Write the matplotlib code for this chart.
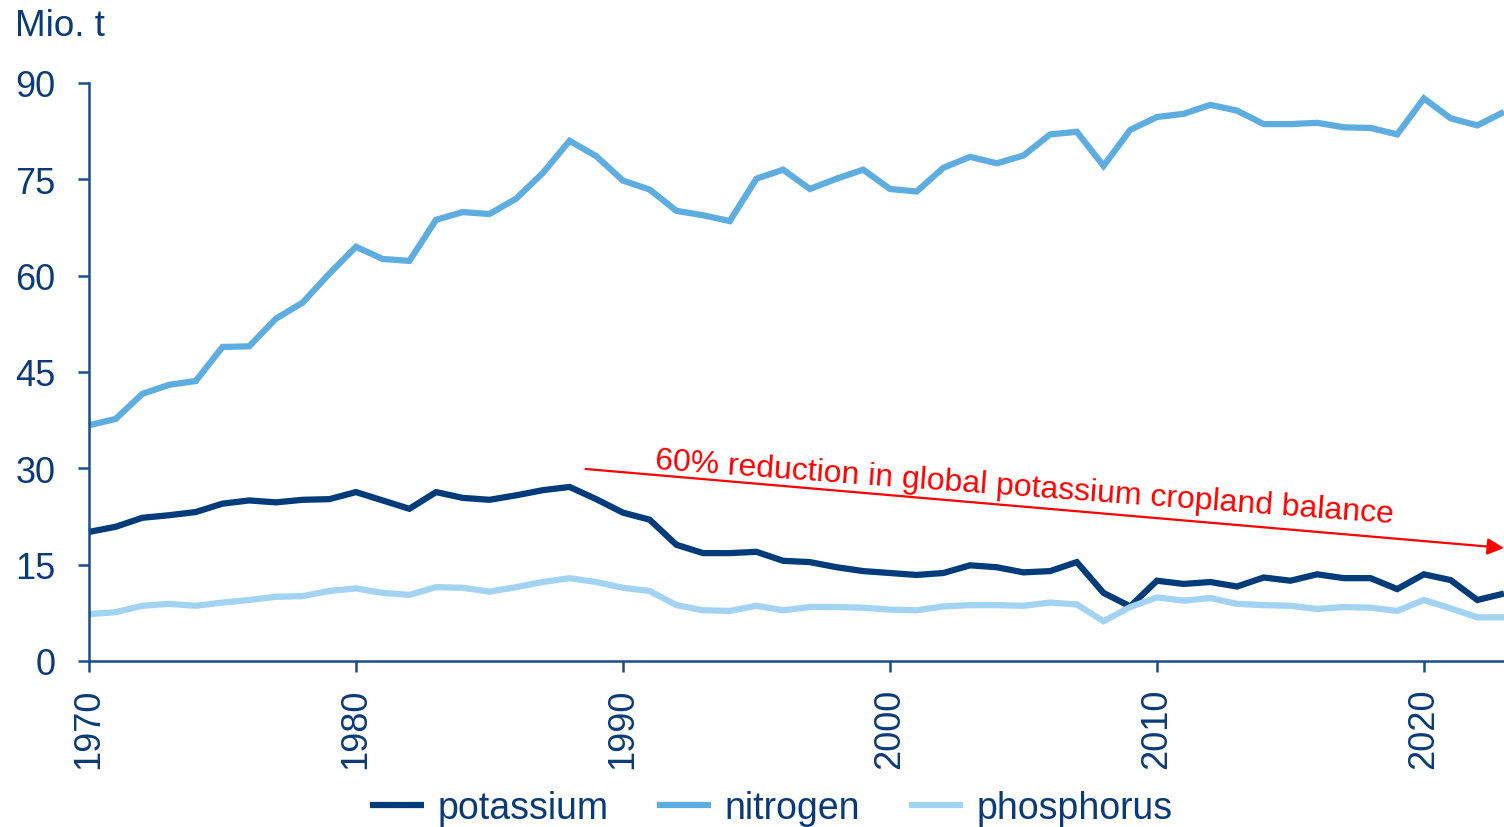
import matplotlib
matplotlib.use("Agg")
import matplotlib.pyplot as plt

years = list(range(1970, 2024))

nitrogen = [36.7, 37.7, 41.6, 43.0, 43.6, 48.9, 49.0, 53.3, 55.8, 60.3,
            64.5, 62.6, 62.3, 68.7, 69.9, 69.6, 72.0, 76.0, 81.0, 78.6,
            74.8, 73.4, 70.1, 69.4, 68.5, 75.1, 76.5, 73.5, 75.1, 76.5,
            73.5, 73.1, 76.8, 78.5, 77.5, 78.7, 82.0, 82.4, 77.1, 82.7,
            84.7, 85.2, 86.6, 85.7, 83.6, 83.6, 83.8, 83.1, 83.0, 82.0,
            87.6, 84.5, 83.4, 85.5]

potassium = [20.1, 20.9, 22.3, 22.7, 23.2, 24.5, 25.0, 24.7, 25.1, 25.2,
             26.3, 25.0, 23.7, 26.3, 25.4, 25.1, 25.8, 26.6, 27.1, 25.2,
             23.1, 22.0, 18.1, 16.8, 16.8, 17.0, 15.6, 15.4, 14.6, 14.0,
             13.7, 13.4, 13.7, 14.9, 14.6, 13.8, 14.0, 15.4, 10.6, 8.5,
             12.5, 12.0, 12.3, 11.6, 13.0, 12.5, 13.5, 12.9, 12.9, 11.2,
             13.5, 12.6, 9.5, 10.5]

phosphorus = [7.3, 7.6, 8.6, 8.9, 8.6, 9.1, 9.5, 10.0, 10.1, 10.9,
              11.3, 10.6, 10.3, 11.5, 11.4, 10.8, 11.5, 12.3, 12.9, 12.3,
              11.4, 10.9, 8.7, 7.9, 7.8, 8.6, 7.9, 8.4, 8.4, 8.3,
              8.0, 7.9, 8.5, 8.7, 8.7, 8.6, 9.1, 8.8, 6.2, 8.4,
              9.9, 9.4, 9.8, 8.9, 8.7, 8.6, 8.1, 8.4, 8.3, 7.8,
              9.5, 8.2, 6.8, 6.8]

series_names = ["potassium", "nitrogen", "phosphorus"]
series_colors = ["#003B7A", "#5DADE0", "#A3D3F3"]

y_ticks = [0, 15, 30, 45, 60, 75, 90]
x_ticks = [1970, 1980, 1990, 2000, 2010, 2020]
unit_label = "Mio. t"
annotation = "60% reduction in global potassium cropland balance"

text_color = "#0B3A78"
axis_color = "#1C4C8A"

plt.rcParams['font.family'] = ['Liberation Sans', 'DejaVu Sans']

fig = plt.figure(figsize=(15.04, 8.28), dpi=100)
ax = fig.add_axes([89/1504, 1-662/828, 1-89/1504, (662-84)/828])

data = [potassium, nitrogen, phosphorus]
lines = []
for name, vals, col in zip(series_names, data, series_colors):
    ln, = ax.plot(years, vals, color=col, lw=4.5, label=name,
                  solid_joinstyle='miter', solid_capstyle='butt', clip_on=False)
    lines.append(ln)

ax.set_xlim(1970, 2023)
ax.set_ylim(0, 90)
ax.set_yticks(y_ticks)
ax.set_xticks(x_ticks)
ax.set_xticklabels([str(x) for x in x_ticks], rotation=90)

for s in ["top", "right"]:
    ax.spines[s].set_visible(False)
for s in ["left", "bottom"]:
    ax.spines[s].set_color(axis_color)
    ax.spines[s].set_linewidth(1.8)

ax.tick_params(axis='y', direction='out', length=8, width=1.8, color=axis_color,
               labelcolor=text_color, labelsize=26, pad=16)
ax.tick_params(axis='x', direction='out', length=8, width=1.8, color=axis_color,
               labelcolor=text_color, labelsize=26, pad=11)

fig.text(15/1504, 1-9/828, unit_label, color=text_color, fontsize=26.5,
         ha='left', va='top')

# annotation arrow
ax.annotate("", xy=(2023.0, 17.6), xytext=(1988.6, 29.9),
            arrowprops=dict(arrowstyle='-|>', color='#FF0000', lw=1.6,
                            mutation_scale=25, shrinkA=0, shrinkB=0),
            annotation_clip=False)
ax.text(2005.05, 27.0, annotation, color='#FF0000', fontsize=23,
        rotation=-4.2, rotation_mode='anchor', ha='center', va='center')

fig.legend(handles=[*lines], labels=series_names, loc='center',
           bbox_to_anchor=(771/1504, 1-809/828), ncol=3, frameon=False,
           fontsize=27, handlelength=1.45, handletextpad=0.35,
           columnspacing=1.3, labelcolor=text_color, borderaxespad=0)

fig.savefig("out.png", dpi=100)
